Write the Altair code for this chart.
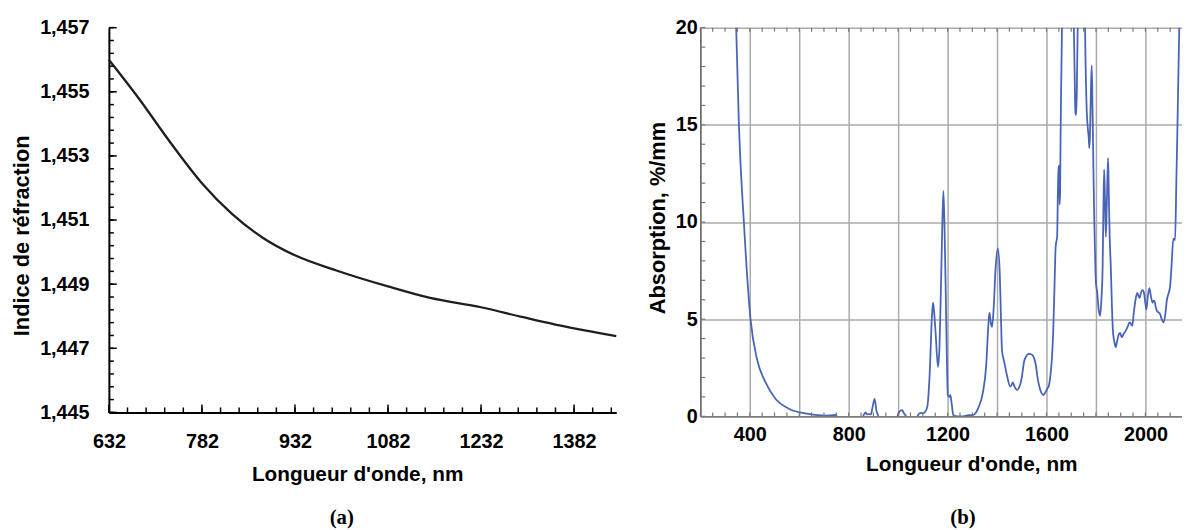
import altair as alt
import pandas as pd

# ---------------- Panel (a): refractive index ----------------
wl_a = [632, 680, 730, 782, 830, 880, 932, 1000, 1082, 1150, 1232, 1300, 1382, 1450]
n_a = [1.45600, 1.45480, 1.45345, 1.45215, 1.45120, 1.45045, 1.44990, 1.44942,
       1.44893, 1.44857, 1.44828, 1.44797, 1.44762, 1.44738]
xticks_a = [632, 782, 932, 1082, 1232, 1382]
xminor_a = list(range(632, 1450, 30))
yticks_a = [1.445, 1.447, 1.449, 1.451, 1.453, 1.455, 1.457]
yminor_a = [round(1.445 + 0.0004 * i, 4) for i in range(31)]

# ---------------- Panel (b): absorption ----------------
wl_b = [330, 345, 356, 376, 403, 429, 463, 503, 556, 623, 703, 749, 760, 850, 860, 868,
        875, 882, 890, 897, 905, 912, 920, 925, 990, 1000, 1010, 1016, 1024, 1032, 1038,
        1070, 1080, 1090, 1100, 1110, 1118, 1129, 1136, 1141, 1146, 1152, 1161, 1167,
        1172, 1178, 1183, 1188, 1193, 1197, 1201, 1207, 1211, 1217, 1223, 1240, 1263,
        1280, 1303, 1323, 1343, 1356, 1364, 1369, 1375, 1380, 1386, 1394, 1403, 1411,
        1416, 1420, 1429, 1440, 1453, 1458, 1464, 1470, 1480, 1493, 1500, 1509, 1518,
        1527, 1536, 1544, 1557, 1565, 1573, 1580, 1587, 1596, 1604, 1610, 1616, 1622,
        1627, 1632, 1637, 1640, 1643, 1646, 1649, 1651, 1653, 1655, 1657, 1661, 1666,
        1675, 1700, 1708, 1714, 1717, 1720, 1723, 1728, 1735, 1750, 1757, 1762, 1768,
        1771, 1773, 1776, 1780, 1783, 1786, 1790, 1793, 1796, 1800, 1805, 1811, 1817,
        1822, 1827, 1830, 1833, 1836, 1840, 1844, 1849, 1852, 1855, 1860, 1865, 1869,
        1875, 1880, 1886, 1893, 1898, 1904, 1912, 1920, 1928, 1936, 1942, 1947, 1953,
        1960, 1967, 1972, 1976, 1983, 1989, 1995, 2000, 2004, 2010, 2016, 2022, 2029,
        2033, 2037, 2042, 2047, 2053, 2060, 2066, 2073, 2080, 2087, 2093, 2100, 2106,
        2113, 2117, 2120, 2125, 2129, 2134, 2137, 2142, 2148]
abs_b = [28, 20, 15, 10, 5, 2.95, 1.77, 0.92, 0.41, 0.15, 0.04, 0.07, -0.3, -0.3, 0.05, 0.2,
         0.1, 0.12, 0.1, 0.5, 0.9, 0.3, 0.0, -0.3, -0.3, 0.1, 0.3, 0.32, 0.15, 0.0, -0.3,
         -0.3, 0.05, 0.18, 0.15, 0.25, 0.5, 2.6, 5.0, 5.85, 5.3, 4.2, 2.55, 3.5,
         6.0, 9.5, 11.6, 9.5, 6.0, 3.0, 1.1, 1.0, 1.1, 0.6, 0.07, 0.0, 0.0,
         0.05, 0.07, 0.4, 1.25, 2.6, 4.5, 5.34, 4.8, 4.6, 5.5, 7.6, 8.64, 7.37,
         5.0, 3.39, 2.8, 2.12, 1.53, 1.6, 1.75, 1.55, 1.36, 1.61, 2.0, 2.8, 3.1,
         3.22, 3.2, 3.14, 2.63, 1.9, 1.44, 1.2, 1.10, 1.25, 1.44, 1.6, 2.12, 3.0,
         4.32, 6.5, 8.73, 9.0, 9.24, 11.5, 12.8, 12.9, 10.9, 11.5, 14.5, 18.5, 23,
         30, 30, 22, 17.5, 15.6, 15.5, 17, 22, 28, 28, 19, 16, 14.7,
         14.3, 13.8, 14.5, 17, 18.05, 16, 12.5, 10.25, 8.5, 6.86, 6.4, 5.5, 5.17,
         6.0, 7.7, 10.5, 12.7, 11.5, 9.24, 11, 13.3, 11.5, 9.5, 7.7, 5.5, 4.32,
         3.8, 3.56, 3.9, 4.24, 4.3, 4.07, 4.25, 4.4, 4.6, 4.83, 4.75, 4.66, 5.34,
         6.0, 6.36, 6.2, 6.1, 6.4, 6.5, 6.3, 5.8, 5.5, 6.2, 6.6, 6.2, 5.85,
         5.95, 5.93, 5.6, 5.42, 5.35, 5.25, 5.0, 4.83, 5.2, 6.0, 6.3, 6.7, 7.8,
         9.15, 9.1, 9.07, 12, 14.5, 18, 20, 24, 28]
xgrid_b = [200, 400, 600, 800, 1000, 1200, 1400, 1600, 1800, 2000]
xminor_b = list(range(200, 2150, 50))
yticks_b = [0, 5, 10, 15, 20]
yminor_b = list(range(0, 21))

FONT = "Liberation Sans"
SERIF = "Liberation Serif"

# ---------- Panel (a) ----------
WA, HA = 513, 389
xs_a = alt.Scale(domain=[632, 1450], nice=False, zero=False)
ys_a = alt.Scale(domain=[1.445, 1.457], nice=False, zero=False)

df_a = pd.DataFrame({"wl": wl_a, "n": n_a})
line_a = alt.Chart(df_a).mark_line(color="#1e1e1e", strokeWidth=2.3, interpolate="monotone").encode(
    x=alt.X("wl:Q", scale=xs_a, axis=alt.Axis(
        values=xticks_a, format="d", ticks=False, domainColor="black", domainWidth=2,
        labelFont=FONT, labelFontSize=20, labelFontWeight="bold", labelColor="black",
        labelPadding=19, labelFlush=False, grid=False,
        title="Longueur d'onde, nm", titleFont=FONT, titleFontSize=21, titleFontWeight="bold",
        titleColor="black", titleX=251, titleY=63, titleBaseline="middle", titleAlign="center")),
    y=alt.Y("n:Q", scale=ys_a, axis=alt.Axis(
        values=yticks_a, labelExpr="replace(format(datum.value, '.3f'), '.', ',')",
        ticks=False, domainColor="black", domainWidth=2, grid=False,
        labelFont=FONT, labelFontSize=20, labelFontWeight="bold", labelColor="black",
        labelPadding=20, labelFlush=False,
        title="Indice de réfraction", titleFont=FONT, titleFontSize=22, titleFontWeight="bold",
        titleColor="black", titleX=-88, titleY=210, titleBaseline="middle", titleAlign="center")),
)

tx_a_min = alt.Chart(pd.DataFrame({"wl": xminor_a})).mark_rule(color="black", strokeWidth=1.5).encode(
    x=alt.X("wl:Q", scale=xs_a), y=alt.value(HA), y2=alt.value(HA - 5))
tx_a_maj = alt.Chart(pd.DataFrame({"wl": xticks_a})).mark_rule(color="black", strokeWidth=1.5).encode(
    x=alt.X("wl:Q", scale=xs_a), y=alt.value(HA), y2=alt.value(HA - 8))
ty_a_min = alt.Chart(pd.DataFrame({"n": yminor_a})).mark_rule(color="black", strokeWidth=1.5).encode(
    y=alt.Y("n:Q", scale=ys_a), x=alt.value(0), x2=alt.value(5))
ty_a_maj = alt.Chart(pd.DataFrame({"n": yticks_a})).mark_rule(color="black", strokeWidth=1.5).encode(
    y=alt.Y("n:Q", scale=ys_a), x=alt.value(0), x2=alt.value(8))

panel_a = alt.layer(line_a, tx_a_min, tx_a_maj, ty_a_min, ty_a_maj).properties(
    width=WA, height=HA,
    title=alt.TitleParams("(a)", orient="bottom", anchor="middle", dx=-21, offset=23,
                          font=SERIF, fontSize=21, fontWeight="bold", color="black"))

# ---------- Panel (b) ----------
WB, HB = 487, 393
xs_b = alt.Scale(domain=[200, 2148], nice=False, zero=False)
ys_b = alt.Scale(domain=[0, 20], nice=False, zero=False)

df_b = pd.DataFrame({"wl": wl_b, "a": abs_b})
line_b = alt.Chart(df_b).mark_line(color="#4864b6", strokeWidth=1.8, interpolate="monotone", clip=True).encode(
    x=alt.X("wl:Q", scale=xs_b, axis=alt.Axis(
        values=xgrid_b, format="d",
        labelExpr="(datum.value % 400 == 0 && datum.value >= 400) ? datum.label : ''",
        ticks=False, domainColor="#666", domainWidth=1.5,
        grid=True, gridColor="#aaaaaa", gridWidth=1.5,
        labelFont=FONT, labelFontSize=20, labelFontWeight="bold", labelColor="black",
        labelPadding=8, labelFlush=False,
        title="Longueur d'onde, nm", titleFont=FONT, titleFontSize=21, titleFontWeight="bold",
        titleColor="black", titleX=274, titleY=49, titleBaseline="middle", titleAlign="center")),
    y=alt.Y("a:Q", scale=ys_b, axis=alt.Axis(
        values=yticks_b, format="d", ticks=False, domainColor="#666", domainWidth=1.5,
        grid=True, gridColor="#aaaaaa", gridWidth=1.5,
        labelFont=FONT, labelFontSize=20, labelFontWeight="bold", labelColor="black",
        labelPadding=3, labelFlush=False,
        title="Absorption, %/mm", titleFont=FONT, titleFontSize=22, titleFontWeight="bold",
        titleColor="black", titleX=-43, titleY=192, titleBaseline="middle", titleAlign="center")),
)

tx_b_bot = alt.Chart(pd.DataFrame({"wl": xminor_b})).mark_rule(color="#777", strokeWidth=1.2).encode(
    x=alt.X("wl:Q", scale=xs_b), y=alt.value(HB), y2=alt.value(HB - 4))
tx_b_top = alt.Chart(pd.DataFrame({"wl": xminor_b})).mark_rule(color="#777", strokeWidth=1.2).encode(
    x=alt.X("wl:Q", scale=xs_b), y=alt.value(0), y2=alt.value(4))
ty_b = alt.Chart(pd.DataFrame({"a": yminor_b})).mark_rule(color="#777", strokeWidth=1.2).encode(
    y=alt.Y("a:Q", scale=ys_b), x=alt.value(0), x2=alt.value(5))

panel_b = alt.layer(line_b, tx_b_bot, tx_b_top, ty_b).properties(
    width=WB, height=HB,
    title=alt.TitleParams("(b)", orient="bottom", anchor="middle", dx=22, offset=33,
                          font=SERIF, fontSize=21, fontWeight="bold", color="black"))

chart = alt.hconcat(panel_a, panel_b, spacing=26).properties(
    padding={"left": 3, "top": 7, "right": 0, "bottom": 0},
    background="white",
).configure_view(stroke=None)

chart.save("out.html", embed_options={"renderer": "svg", "actions": False})
